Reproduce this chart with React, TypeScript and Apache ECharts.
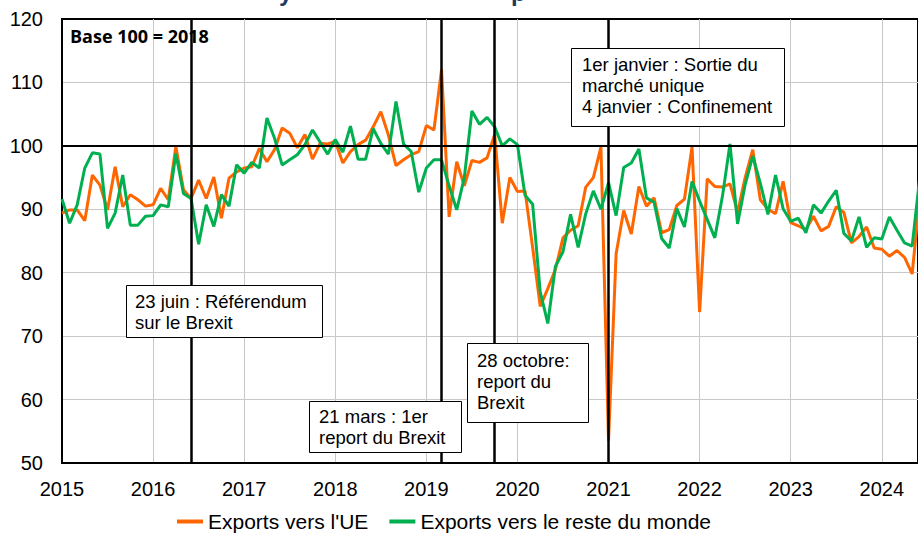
import React, { useEffect, useRef } from 'react';
import * as echarts from 'echarts';

const START_YEAR = 2015;

// Monthly index values (base 100 = 2018), Jan 2015 onwards
const euExports = [
  89.4, 89.9, 89.9, 88.2, 95.4, 93.8, 89.9, 96.7, 90.4, 92.3, 91.5, 90.5,
  90.7, 93.3, 91.5, 99.9, 93.1, 91.7, 94.6, 91.7, 95.1, 88.6, 94.9, 95.9,
  96.5, 96.7, 99.6, 97.5, 99.4, 102.8, 102.0, 99.7, 101.8, 97.9, 100.4, 100.3,
  100.7, 97.3, 99.1, 100.2, 100.9, 103.0, 105.4, 101.7, 96.9, 97.8, 98.6, 99.1,
  103.2, 102.5, 112.0, 88.8, 97.5, 93.7, 97.7, 97.4, 98.1, 101.8, 87.8, 95.0,
  92.8, 92.9, 84.0, 74.7, 77.5, 80.5, 85.5, 86.7, 87.4, 93.5, 95.0, 99.8,
  53.5, 83.0, 89.8, 86.1, 93.6, 90.5, 91.8, 86.3, 86.8, 90.6, 91.6, 99.8,
  73.8, 94.8, 93.6, 93.5, 94.0, 89.5, 95.0, 99.4, 91.5, 90.0, 89.3, 94.4,
  87.9, 87.4, 86.8, 88.9, 86.6, 87.3, 90.4, 89.5, 84.7, 85.7, 87.2, 83.9,
  83.7, 82.6, 83.5, 82.4, 79.8, 92.0,
];

const rowExports = [
  91.6, 87.8, 90.7, 96.5, 98.9, 98.7, 87.0, 89.4, 95.4, 87.5, 87.5, 88.9,
  89.0, 90.7, 90.4, 98.8, 92.5, 91.7, 84.5, 90.7, 87.3, 92.3, 90.5, 97.0,
  95.7, 97.4, 96.5, 104.4, 101.2, 97.0, 97.8, 98.6, 100.2, 102.5, 100.6, 98.7,
  101.0, 99.0, 103.1, 97.9, 97.9, 102.7, 100.4, 98.7, 107.0, 100.3, 99.1, 92.7,
  96.5, 97.8, 97.8, 93.7, 89.9, 95.0, 105.5, 103.4, 104.5, 103.0, 100.0, 101.1,
  100.2, 92.2, 90.8, 77.0, 72.0, 81.0, 83.3, 89.2, 84.0, 89.3, 92.9, 90.0,
  94.2, 89.0, 96.6, 97.3, 99.5, 91.8, 91.1, 85.4, 83.9, 90.1, 87.2, 94.4,
  91.3, 88.4, 85.5, 92.0, 100.3, 87.7, 93.9, 98.4, 94.1, 89.2, 95.4, 90.1,
  88.1, 88.6, 86.3, 90.7, 89.4, 91.3, 93.0, 86.2, 85.0, 88.8, 84.0, 85.5,
  85.3, 88.8, 86.7, 84.7, 84.2, 95.0,
];

const seriesNames = ["Exports vers l'UE", 'Exports vers le reste du monde'];
const seriesColors = ['#FF6600', '#00B050'];
const eventDates = ['2016-06', '2019-03', '2019-10', '2021-01'];
const baseLine = 100;
const yMin = 50;
const yMax = 120;
const yStep = 10;
const baseLabel = 'Base 100 = 2018';
const notes = [
  '23 juin : Référendum\nsur le Brexit',
  '21 mars : 1er\nreport du Brexit',
  '28 octobre:\nreport du\nBrexit',
  '1er janvier : Sortie du\nmarché unique\n4 janvier : Confinement',
];

const monthIndex = (s: string) => {
  const [y, m] = s.split('-').map(Number);
  return (y - START_YEAR) * 12 + (m - 1);
};

const FONT = '"Liberation Sans", Arial, sans-serif';

export default function App() {
  const ref = useRef<HTMLDivElement>(null);

  useEffect(() => {
    document.body.style.margin = '0';
    if (!ref.current) return;
    const chart = echarts.init(ref.current, undefined, { renderer: 'svg' });

    const toPairs = (arr: number[]) => arr.map((v, i) => [i, v]);

    const noteBoxes = [
      { x: 126, y: 285, w: 196, h: 52, tx: 135, ty: 291 },
      { x: 309, y: 401, w: 152, h: 51, tx: 319, ty: 406 },
      { x: 467, y: 343, w: 121, h: 79, tx: 477, ty: 350 },
      { x: 571, y: 48, w: 213, h: 78, tx: 582, ty: 53.5 },
    ];

    const graphics: any[] = [];
    noteBoxes.forEach((b, k) => {
      graphics.push({
        type: 'rect',
        z: 100,
        shape: { x: b.x + 0.5, y: b.y + 0.5, width: b.w, height: b.h },
        style: { fill: '#fff', stroke: '#000', lineWidth: 1 },
      });
      graphics.push({
        type: 'text',
        z: 101,
        style: {
          text: notes[k],
          x: b.tx,
          y: b.ty,
          font: `18.5px ${FONT}`,
          lineHeight: 21,
          fill: '#000',
          verticalAlign: 'top',
          align: 'left',
        },
      });
    });
    graphics.push({
      type: 'text',
      z: 101,
      style: {
        text: baseLabel,
        x: 70,
        y: 36,
        font: 'bold 18px "Open Sans", "Liberation Sans", sans-serif',
        fill: '#000',
        verticalAlign: 'middle',
      },
    });
    // title (cropped at top of image)
    graphics.push({
      type: 'text',
      z: 101,
      style: { text: 'y', x: 279, y: -8, font: `bold 24px ${FONT}`, fill: '#1F3864', verticalAlign: 'middle' },
    });
    graphics.push({
      type: 'text',
      z: 101,
      style: { text: 'p', x: 511, y: -8, font: `bold 24px ${FONT}`, fill: '#1F3864', verticalAlign: 'middle' },
    });

    const option: any = {
      animation: false,
      backgroundColor: '#fff',
      grid: {
        left: 62,
        top: 19,
        right: -3,
        bottom: 71,
        show: true,
        borderColor: '#000',
        borderWidth: 2,
        backgroundColor: 'transparent',
      },
      xAxis: {
        type: 'value',
        min: 0,
        max: 112.77,
        interval: 12,
        axisLine: { show: true, lineStyle: { color: '#000', width: 2 } },
        axisTick: { show: false },
        axisLabel: {
          margin: 16,
          fontSize: 20,
          fontFamily: FONT,
          color: '#000',
          showMaxLabel: false,
          formatter: (v: number) => (v % 12 === 0 ? String(START_YEAR + v / 12) : ''),
        },
        splitLine: { show: true, lineStyle: { color: '#C8C8C8', width: 1 } },
      },
      yAxis: {
        type: 'value',
        min: yMin,
        max: yMax,
        interval: yStep,
        axisLine: { show: true, lineStyle: { color: '#000', width: 2 } },
        axisTick: { show: false },
        axisLabel: { margin: 19, fontSize: 20, fontFamily: FONT, color: '#000' },
        splitLine: { show: true, showMaxLine: false, lineStyle: { color: '#C8C8C8', width: 1 } },
      },
      legend: {
        data: seriesNames,
        left: 172,
        top: 506,
        icon: 'rect',
        itemWidth: 26,
        itemHeight: 4,
        itemGap: 21,
        textStyle: { fontSize: 21, fontFamily: FONT, color: '#000' },
      },
      series: [
        {
          name: '',
          type: 'line',
          data: [],
          z: 1,
          silent: true,
          markLine: {
            silent: true,
            symbol: ['none', 'none'],
            label: { show: false },
            data: [
              ...eventDates.map((d) => ({ xAxis: monthIndex(d), lineStyle: { color: '#000', width: 2.5, type: 'solid' } })),
              { yAxis: baseLine, lineStyle: { color: '#000', width: 2, type: 'solid' } },
            ],
          },
        },
        {
          name: seriesNames[0],
          type: 'line',
          data: toPairs(euExports),
          showSymbol: false,
          symbol: 'none',
          color: seriesColors[0],
          lineStyle: { color: seriesColors[0], width: 3 },
          z: 3,
        },
        {
          name: seriesNames[1],
          type: 'line',
          data: toPairs(rowExports),
          showSymbol: false,
          symbol: 'none',
          color: seriesColors[1],
          lineStyle: { color: seriesColors[1], width: 3 },
          z: 4,
        },
      ],
      graphic: { elements: graphics },
    };

    chart.setOption(option);
    return () => chart.dispose();
  }, []);

  return (
    <div
      ref={ref}
      style={{ position: 'fixed', left: 0, top: 0, width: 918, height: 534, background: '#fff' }}
    />
  );
}
